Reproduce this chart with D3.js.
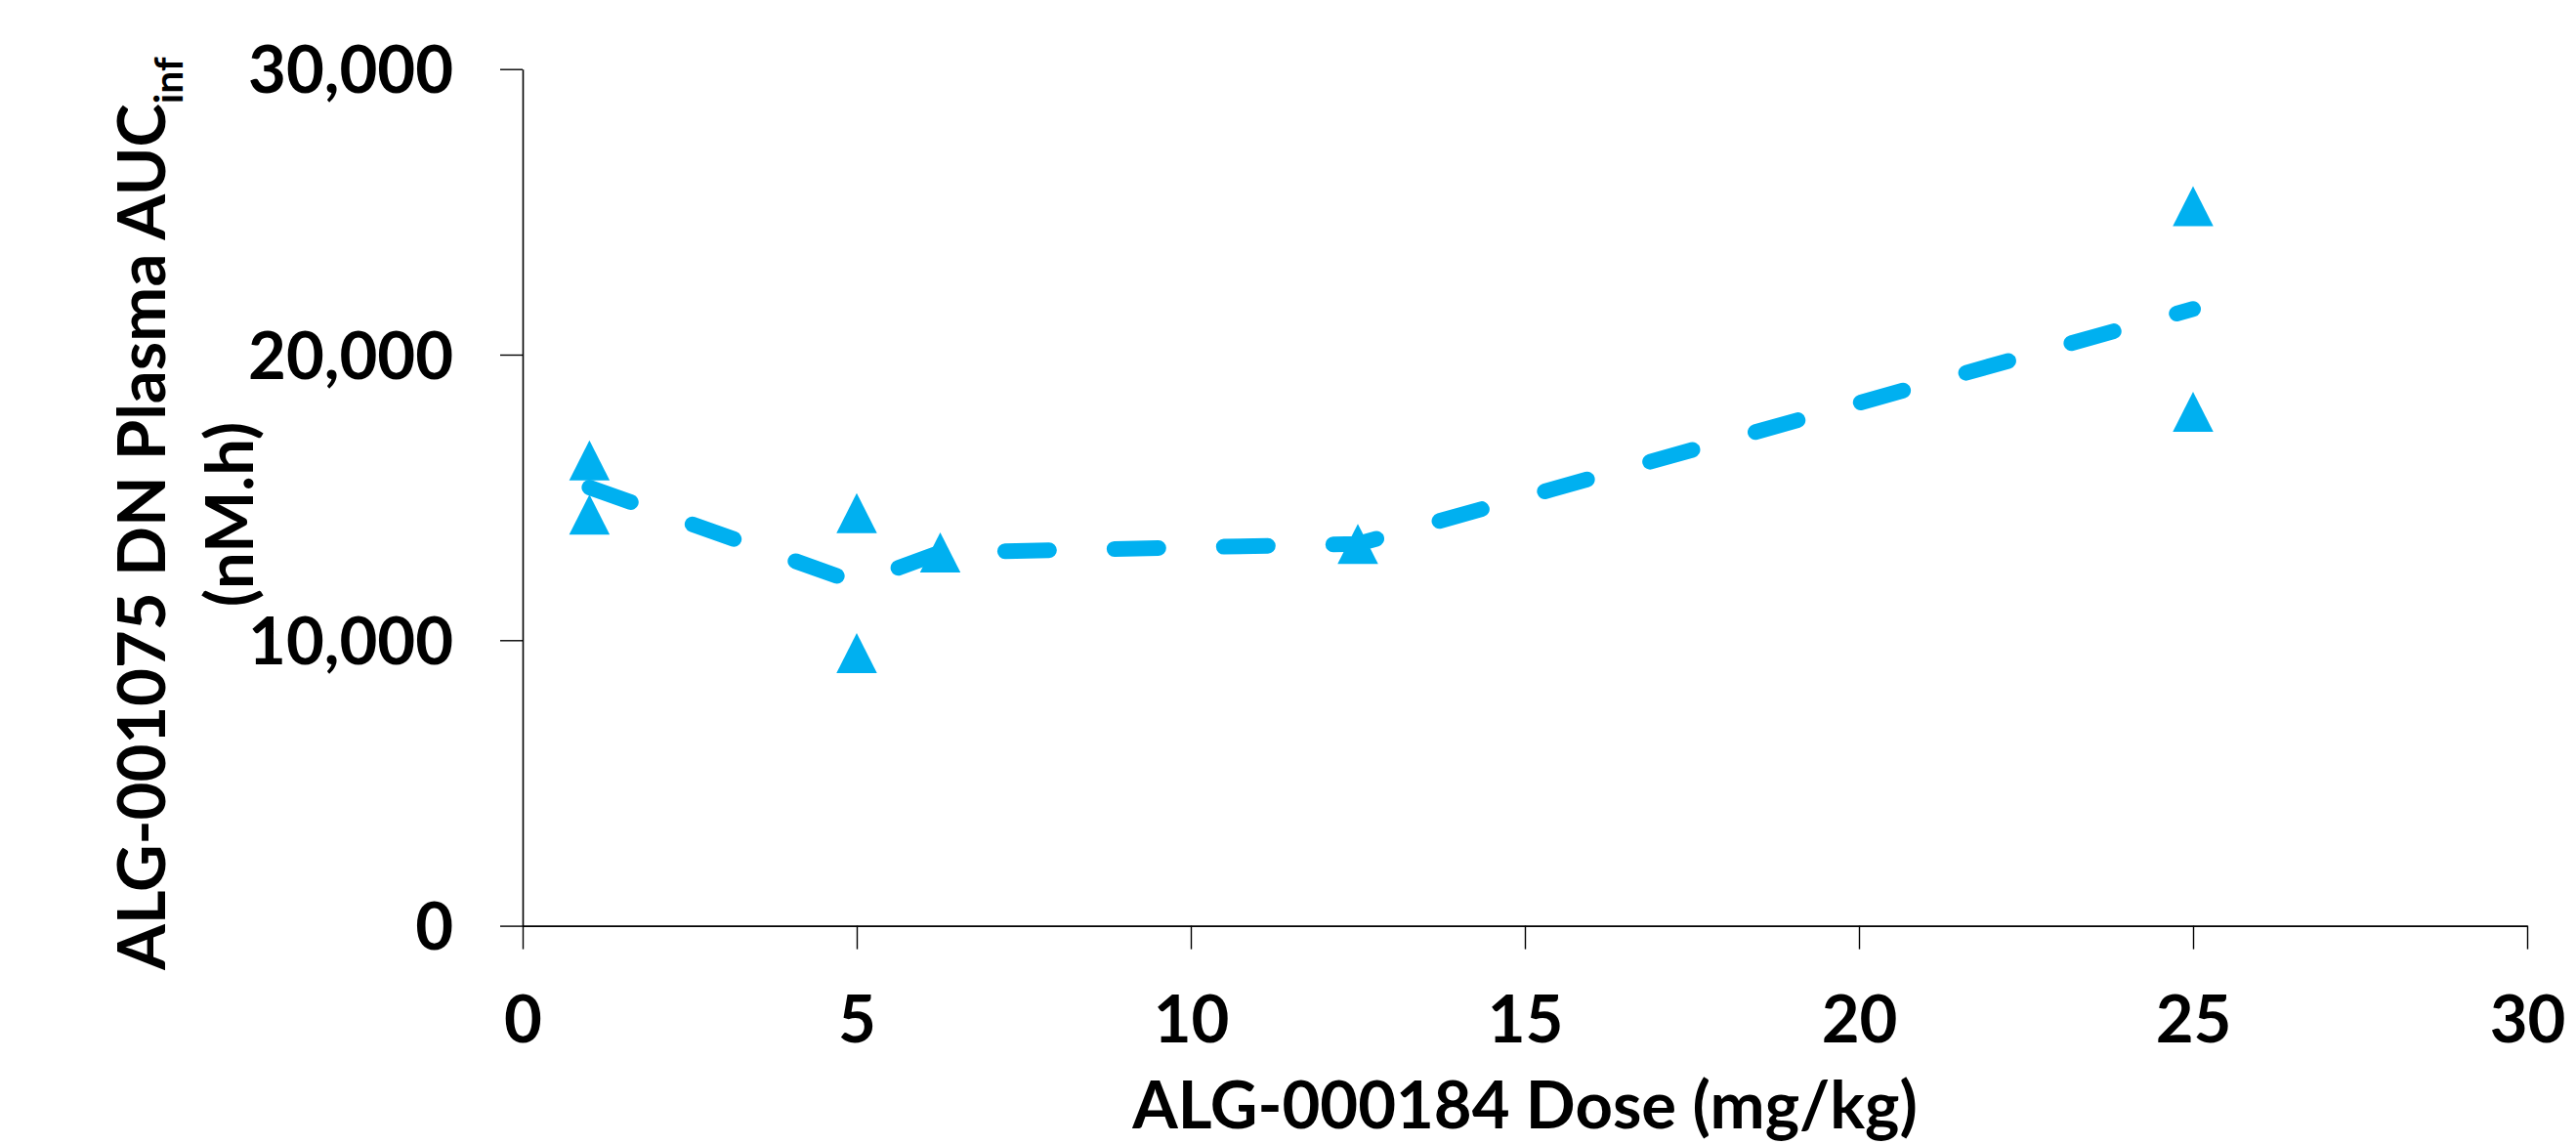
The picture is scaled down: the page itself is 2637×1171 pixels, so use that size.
<!DOCTYPE html>
<html>
<head>
<meta charset="utf-8">
<script src="https://cdn.jsdelivr.net/npm/d3@7"></script>
<style>
  body { margin: 0; background: #fff; }
  text { font-family: Lato, "Open Sans", sans-serif; font-weight: bold; fill: #000; }
</style>
</head>
<body>
<div id="chart"></div>
<script>
// individual animals
const doses = [1, 1, 5, 5, 6.25, 12.5, 25, 25];
const aucValues = [16300, 14400, 14450, 9550, 13070, 13370, 25200, 18000];
// dashed line through group means
const meanDoses = [1, 5, 6.25, 12.5, 25];
const meanAuc = [15350, 12000, 13070, 13370, 21600];

const xTicks = [0, 5, 10, 15, 20, 25, 30];
const yTicks = [0, 10000, 20000, 30000];

const cfg = {
  width: 2637,
  height: 1171,
  left: 535,
  right: 2587,
  top: 70.7,
  bottom: 947.6,
  color: '#00B0F0',
  fontSize: 67
};

const svg = d3.select('#chart')
  .append('svg')
  .attr('width', cfg.width)
  .attr('height', cfg.height);

const x = d3.scaleLinear().domain([0, 30]).range([cfg.left, cfg.right]);
const y = d3.scaleLinear().domain([0, 30000]).range([cfg.bottom, cfg.top]);

// x axis
const gx = svg.append('g')
  .attr('transform', `translate(0,${cfg.bottom})`)
  .call(d3.axisBottom(x).tickValues(xTicks).tickSize(24).tickSizeOuter(0).tickFormat(d3.format('d')));
gx.selectAll('text').attr('y', 119).attr('dy', 0);

// y axis
const gy = svg.append('g')
  .attr('transform', `translate(${cfg.left},0)`)
  .call(d3.axisLeft(y).tickValues(yTicks).tickSize(23).tickPadding(48).tickSizeOuter(0).tickFormat(d3.format(',')));
gy.selectAll('text').attr('dy', '0.36em');

svg.selectAll('.domain').attr('stroke', '#000').attr('stroke-width', 1.6);
svg.selectAll('.tick line').attr('stroke', '#000').attr('stroke-width', 1.4);
svg.selectAll('.tick text')
  .attr('font-size', cfg.fontSize)
  .attr('font-family', 'Lato, "Open Sans", sans-serif')
  .attr('font-weight', 'bold')
  .attr('fill', '#000');

// mean line
const line = d3.line().x((d, i) => x(meanDoses[i])).y(d => y(d));
svg.append('path')
  .datum(meanAuc)
  .attr('d', line)
  .attr('fill', 'none')
  .attr('stroke', cfg.color)
  .attr('stroke-width', 16)
  .attr('stroke-linecap', 'round')
  .attr('stroke-dasharray', '45 67');

// triangle markers
const tri = 'M0,-20.5L20.75,20.5L-20.75,20.5Z';
svg.selectAll('.pt')
  .data(aucValues)
  .enter()
  .append('path')
  .attr('class', 'pt')
  .attr('d', tri)
  .attr('transform', (d, i) => `translate(${x(doses[i])},${y(d)})`)
  .attr('fill', cfg.color);

// X axis label:
svg.append('text')
  .attr('text-anchor', 'middle')
  .attr('x', (cfg.left + cfg.right) / 2)
  .attr('y', 1155)
  .attr('font-size', cfg.fontSize)
  .text('ALG-000184 Dose (mg/kg)');

// Y axis label, two lines:
const yt = svg.append('text')
  .attr('text-anchor', 'middle')
  .attr('transform', 'rotate(-90)')
  .attr('x', -525.5)
  .attr('y', 169)
  .attr('font-size', cfg.fontSize);
yt.append('tspan').text('ALG-001075 DN Plasma AUC');
yt.append('tspan').attr('dy', 18).attr('font-size', 41).text('inf');

svg.append('text')
  .attr('text-anchor', 'middle')
  .attr('transform', 'rotate(-90)')
  .attr('x', -526.5)
  .attr('y', 259)
  .attr('font-size', cfg.fontSize)
  .text('(nM.h)');
</script>
</body>
</html>
